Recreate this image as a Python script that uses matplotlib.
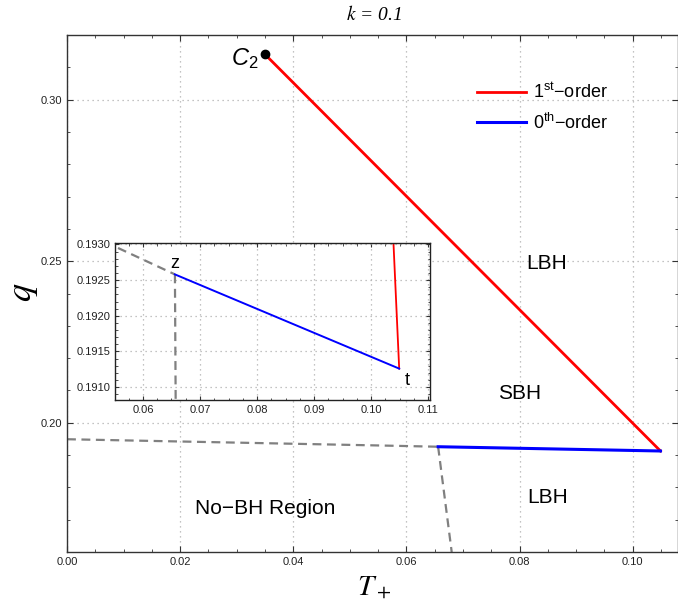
import matplotlib
matplotlib.use("Agg")
import matplotlib.pyplot as plt
from matplotlib.ticker import MultipleLocator, FormatStrFormatter

plt.rcParams['font.family'] = ['Liberation Sans', 'DejaVu Sans']
plt.rcParams['mathtext.fontset'] = 'custom'
plt.rcParams['mathtext.rm'] = 'Liberation Sans'
plt.rcParams['mathtext.it'] = 'Liberation Sans:italic'
plt.rcParams['mathtext.bf'] = 'Liberation Sans:bold'

# ---- data ----
first_T = [0.0350, 0.1049]
first_q = [0.3140, 0.19126]
zeroth_T = [0.0656, 0.1049]
zeroth_q = [0.19258, 0.19126]
nobh_h_T = [0.0, 0.0551, 0.0656]
nobh_h_q = [0.1949, 0.19297, 0.19258]
nobh_v_T = [0.0656, 0.0680]
nobh_v_q = [0.19258, 0.1600]
c2_point = (0.0350, 0.3140)
z_point = (0.0656, 0.19258)
t_point = (0.1049, 0.19126)

main_xticks = [0.00, 0.02, 0.04, 0.06, 0.08, 0.10]
main_yticks = [0.20, 0.25, 0.30]
inset_xticks = [0.06, 0.07, 0.08, 0.09, 0.10, 0.11]
inset_yticks = [0.1910, 0.1915, 0.1920, 0.1925, 0.1930]

RED = '#ff0000'
BLUE = '#0000ff'
GRAY = '#808080'
GRID = '#b0b0b0'
AXC = '#333333'

fig = plt.figure(figsize=(6.78, 6.01), dpi=100)
ax = fig.add_axes([67/678, 1-552/601, 611/678, 517/601])

def style(a, fs):
    for s in a.spines.values():
        s.set_color(AXC)
        s.set_linewidth(1.0)
    a.tick_params(which='both', direction='in', top=True, right=True,
                  colors=AXC, labelsize=fs, labelcolor='#222222')
    a.tick_params(which='major', length=4, width=0.8)
    a.tick_params(which='minor', length=2.5, width=0.6)
    a.grid(True, which='major', linestyle=(0, (1, 3)), color=GRID, linewidth=0.9)

ax.plot(nobh_h_T, nobh_h_q, color=GRAY, lw=1.6, ls=(0, (4, 2.5)))
ax.plot(nobh_v_T, nobh_v_q, color=GRAY, lw=1.6, ls=(0, (4, 2.5)))
ax.plot(first_T, first_q, color=RED, lw=2.0, label='1$^{\\mathrm{st}}$\u2212order')
ax.plot(zeroth_T, zeroth_q, color=BLUE, lw=2.2, label='0$^{\\mathrm{th}}$\u2212order')
ax.plot(*c2_point, 'o', color='black', ms=6, zorder=5)
ax.text(c2_point[0]-0.0012, c2_point[1]-0.0012, '$C_2$', fontsize=17,
        ha='right', va='center')

ax.set_xlim(0, 0.108)
ax.set_ylim(0.16, 0.32)
ax.set_xticks(main_xticks)
ax.set_yticks(main_yticks)
ax.xaxis.set_minor_locator(MultipleLocator(0.005))
ax.yaxis.set_minor_locator(MultipleLocator(0.01))
ax.xaxis.set_major_formatter(FormatStrFormatter('%.2f'))
ax.yaxis.set_major_formatter(FormatStrFormatter('%.2f'))
style(ax, 8)

ax.text(0.0848, 0.2493, 'LBH', fontsize=15, ha='center', va='center')
ax.text(0.0800, 0.2091, 'SBH', fontsize=15, ha='center', va='center')
ax.text(0.0850, 0.1768, 'LBH', fontsize=15, ha='center', va='center')
ax.text(0.0350, 0.1735, 'No\u2212BH Region', fontsize=15, ha='center', va='center')

leg = ax.legend(loc='upper left', bbox_to_anchor=(0.645, 0.94), frameon=False,
                fontsize=13, handlelength=2.7, handletextpad=0.4, labelspacing=0.6)

fig.text(374/678, 1-14/601, '$k$ = 0.1', fontsize=14, family='Liberation Serif',
         style='italic', ha='center', va='center', math_fontfamily='stix')
fig.text(374/678, 1-586/601, '$T_+$', fontsize=21, ha='center', va='center',
         math_fontfamily='stix')
fig.text(22/678, 1-292/601, '$q$', fontsize=26, ha='center', va='center', rotation=90,
         math_fontfamily='stix')

# ---- inset ----
ins = fig.add_axes([115/678, 1-400/601, 315/678, 157/601])
ins.plot(nobh_h_T, nobh_h_q, color=GRAY, lw=1.6, ls=(0, (4, 2.5)))
ins.plot(nobh_v_T, nobh_v_q, color=GRAY, lw=1.6, ls=(0, (4, 2.5)))
ins.plot(first_T, first_q, color=RED, lw=1.3)
ins.plot(zeroth_T, zeroth_q, color=BLUE, lw=1.4)
ins.set_xlim(0.0551, 0.1103)
ins.set_ylim(0.19082, 0.19302)
ins.set_xticks(inset_xticks)
ins.set_yticks(inset_yticks)
ins.xaxis.set_minor_locator(MultipleLocator(0.0025))
ins.yaxis.set_minor_locator(MultipleLocator(0.0001))
ins.xaxis.set_major_formatter(FormatStrFormatter('%.2f'))
ins.yaxis.set_major_formatter(FormatStrFormatter('%.4f'))
style(ins, 8)
ins.tick_params(which='major', length=3)
ins.tick_params(which='minor', length=1.8)
for s in ins.spines.values():
    s.set_color('#222222')
ins.text(z_point[0], z_point[1]+0.00004, 'z', fontsize=13, ha='center', va='bottom')
ins.text(t_point[0]+0.0010, t_point[1]-0.00005, 't', fontsize=13, ha='left', va='top')

fig.savefig('out.png', dpi=100)
